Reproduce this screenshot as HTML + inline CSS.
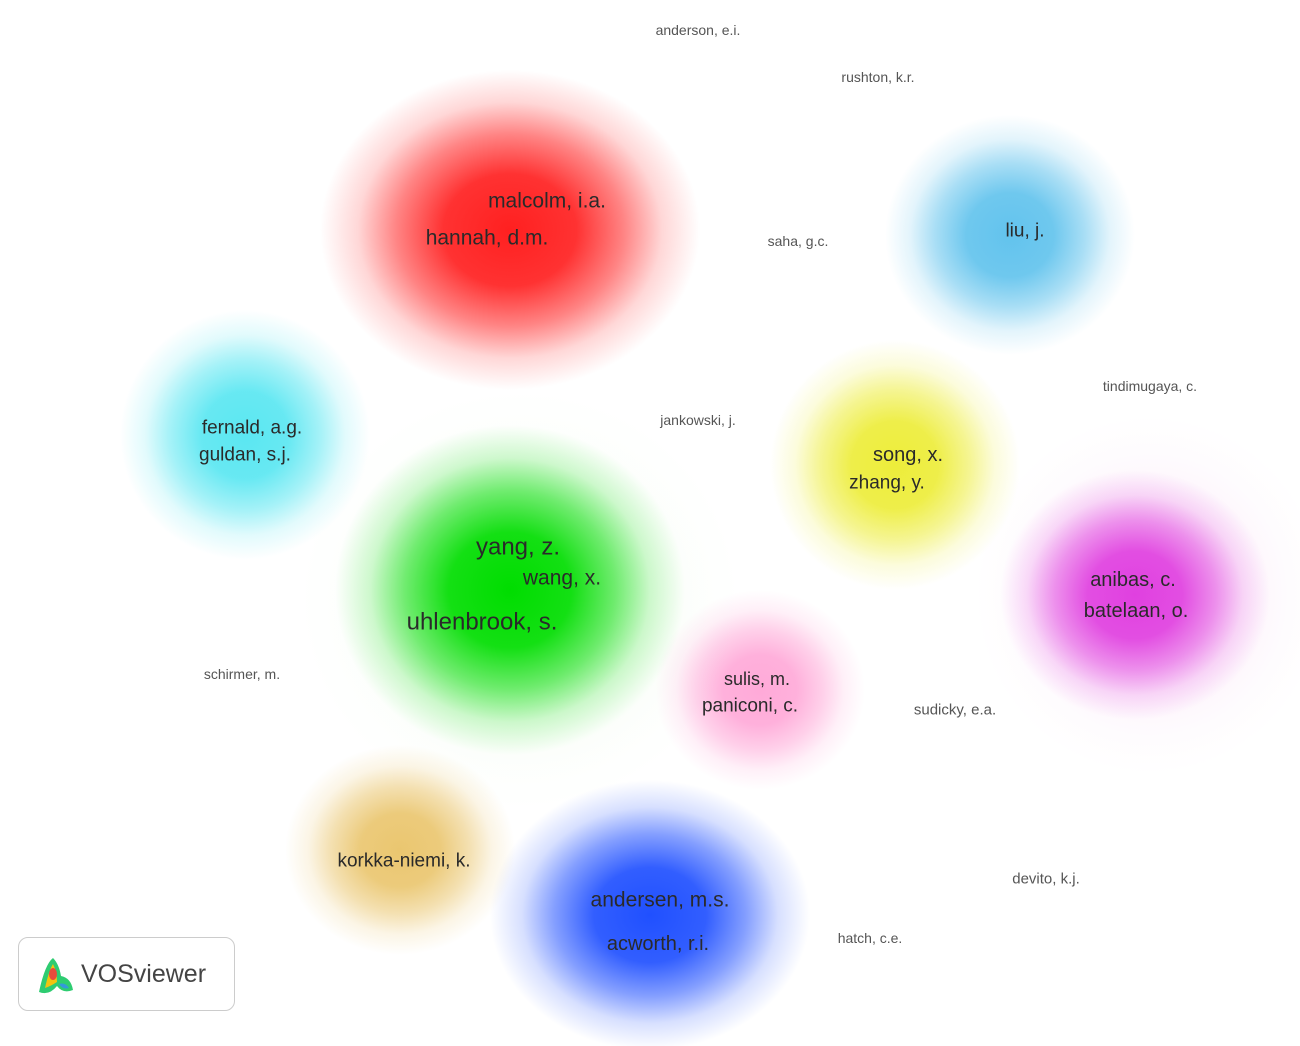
<!DOCTYPE html>
<html><head><meta charset="utf-8">
<style>
html,body{margin:0;padding:0;background:#fff;}
#wrap{position:relative;width:1300px;height:1046px;overflow:hidden;background:#fff;font-family:"Liberation Sans","DejaVu Sans",sans-serif;}
svg{position:absolute;left:0;top:0;}
#logo{position:absolute;left:18px;top:937px;width:217px;height:74px;border:1.5px solid #ccc;border-radius:10px;background:#fff;box-sizing:border-box;}
#logo span{position:absolute;left:62px;top:22px;font-size:25px;color:#444;}
</style></head>
<body>
<div id="wrap">
<svg id="map" width="1300" height="1046"></svg>
<div id="logo">
<svg width="40" height="44" style="left:16px;top:16px">
<path d="M4 38 Q10 10 18 4 Q24 10 26 22 Q36 24 38 36 Q28 40 22 32 Q14 42 4 38Z" fill="#2ecc71"/>
<path d="M10 34 Q14 16 18 10 Q22 18 22 28 Q16 32 10 34Z" fill="#f1c40f"/>
<ellipse cx="18" cy="20" rx="4" ry="6" fill="#e74c3c"/>
<path d="M24 30 Q30 28 34 34 Q28 36 24 30Z" fill="#3498db"/>
</svg>
<span>VOSviewer</span>
</div>
</div>
<script>
const clusterNames=["red","lightblue","cyan","yellow","green","magenta","pink","orange","blue","faint-magenta","faint-green"];
const clusterX=[510,1010,245,895,510,1135,760,400,650,1150,520];
const clusterY=[230,235,435,465,590,595,690,850,915,595,600];
const clusterRX=[190,125,125,125,175,135,105,115,160,175,220];
const clusterRY=[160,120,125,125,165,125,100,105,135,180,210];
const clusterColor=["#ff2020","#5ac0ec","#48e4f0","#ecec30","#00dd00","#e040e0","#ffa0d4","#e8c060","#2050ff","#f6d0f0","#d8f8d0"];
const clusterStrength=[1,0.95,0.9,0.95,1,1,0.9,0.9,1,0.35,0.3];

const labelText=["anderson, e.i.","rushton, k.r.","malcolm, i.a.","hannah, d.m.","saha, g.c.","liu, j.","tindimugaya, c.","fernald, a.g.","guldan, s.j.","jankowski, j.","song, x.","zhang, y.","yang, z.","wang, x.","uhlenbrook, s.","anibas, c.","batelaan, o.","schirmer, m.","sulis, m.","paniconi, c.","sudicky, e.a.","korkka-niemi, k.","devito, k.j.","andersen, m.s.","hatch, c.e.","acworth, r.i."];
const labelX=[698,878,547,487,798,1025,1150,252,245,698,908,887,518,562,482,1133,1136,242,757,750,955,404,1046,660,870,658];
const labelY=[30,77,201,238,241,231,386,428,455,420,455,483,547,578,622,580,611,674,679,706,710,861,879,900,938,944];
const labelSize=[14,14,21,21,14,19,14,19,19,14,20,19,24,21,24,20,20,14,18,19,15,19,15,21,14,20];

const NS="http://www.w3.org/2000/svg";
const svg=document.getElementById("map");
const defs=document.createElementNS(NS,"defs");
svg.appendChild(defs);
// faint ones first
const order=[9,10,0,1,2,3,4,5,6,7,8];
order.forEach(i=>{
  const g=document.createElementNS(NS,"radialGradient");
  g.setAttribute("id","g"+i);
  const s=clusterStrength[i];
  [[0,s],[0.35,0.92*s],[0.6,0.55*s],[0.8,0.18*s],[1,0]].forEach(([o,a])=>{
    const st=document.createElementNS(NS,"stop");
    st.setAttribute("offset",o);
    st.setAttribute("stop-color",clusterColor[i]);
    st.setAttribute("stop-opacity",a);
    g.appendChild(st);
  });
  defs.appendChild(g);
  const e=document.createElementNS(NS,"ellipse");
  
  
  e.setAttribute("cx",clusterX[i]);
  e.setAttribute("cy",clusterY[i]);
  e.setAttribute("rx",clusterRX[i]);
  e.setAttribute("ry",clusterRY[i]);
  e.setAttribute("fill","url(#g"+i+")");
  svg.appendChild(e);
});
labelText.forEach((t,i)=>{
  const tx=document.createElementNS(NS,"text");
  
  
  tx.setAttribute("x",labelX[i]);
  tx.setAttribute("y",labelY[i]);
  tx.setAttribute("text-anchor","middle");
  tx.setAttribute("dominant-baseline","central");
  tx.setAttribute("font-size",labelSize[i]);
  tx.setAttribute("font-family","Liberation Sans, DejaVu Sans, sans-serif");
  tx.setAttribute("fill",labelSize[i]<16?"#555":"#2a2a2a");
  tx.textContent=t;
  svg.appendChild(tx);
});
</script>
</body></html>
